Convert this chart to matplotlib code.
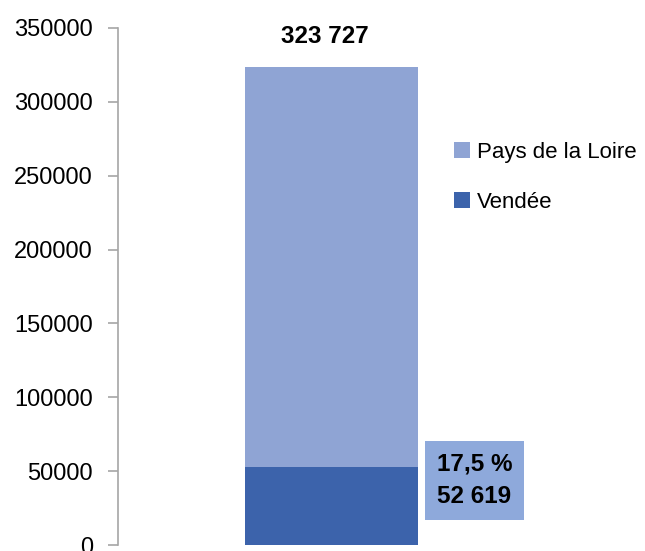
import matplotlib
matplotlib.use("Agg")
import matplotlib.pyplot as plt

plt.rcParams['font.family'] = ['Liberation Sans', 'DejaVu Sans']

# Data
series_names = ["Pays de la Loire", "Vendée"]
series_values = [323727, 52619]
series_colors = ["#8FA4D4", "#3C63AB"]
total_label = "323 727"
vendee_label = "17,5 %\n52 619"
yticks = [0, 50000, 100000, 150000, 200000, 250000, 300000, 350000]

W, H = 645, 551
fig = plt.figure(figsize=(W / 100, H / 100), dpi=100)
left, right, bottom, top = 118, 545, 545, 28
ax = fig.add_axes([left / W, (H - bottom) / H, (right - left) / W, (bottom - top) / H])

bars = []
for name, val, col in zip(series_names, series_values, series_colors):
    b = ax.bar(0, val, width=0.403, color=col, label=name, zorder=2)
    bars.append(b)

ax.set_xlim(-0.5, 0.5)
ax.set_ylim(0, 350000)
ax.set_yticks(yticks)
ax.set_yticklabels([str(t) for t in yticks], fontsize=17)
ax.set_xticks([])
for s in ["top", "right", "bottom"]:
    ax.spines[s].set_visible(False)
ax.spines["left"].set_color("#A6A6A6")
ax.spines["left"].set_linewidth(1.2)
ax.tick_params(axis="y", length=7, width=1.2, color="#A6A6A6", pad=11)

# Total label above bar
ax.annotate(total_label, xy=(0, series_values[0]), xytext=(-5, 22),
            textcoords="offset points", ha="center", va="center",
            fontsize=17.5, fontweight="bold")

# Vendee label box
ax.annotate(vendee_label, xy=(0.2015, series_values[1]), xytext=(41, -9.5),
            textcoords="offset points", ha="center", va="center",
            fontsize=17.5, fontweight="bold", linespacing=1.5,
            bbox=dict(boxstyle="square,pad=0.5", fc="#8EA9DB", ec="none"))

fig.legend(handles=bars, labels=series_names, loc="upper left",
           bbox_to_anchor=(434 / W, 1 - 122 / H), frameon=False,
           fontsize=16, handlelength=0.7, handleheight=0.7,
           handletextpad=0.35, labelspacing=1.3)

fig.savefig("out.png", dpi=100)
